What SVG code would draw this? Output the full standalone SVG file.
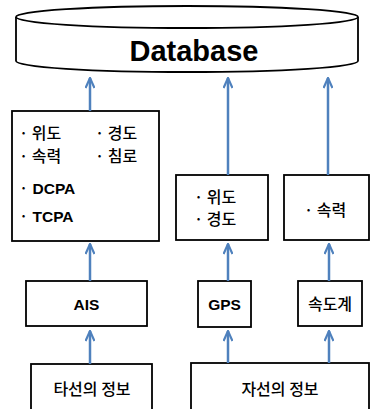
<svg xmlns="http://www.w3.org/2000/svg" width="371" height="409" viewBox="0 0 371 409">
<defs>
<marker id="ah" viewBox="0 0 12 10" refX="11" refY="5" markerWidth="12" markerHeight="10" markerUnits="userSpaceOnUse" orient="auto">
<path d="M1,0.5 L11,5 L1,9.5" fill="none" stroke="#4F81BD" stroke-width="2.2"/>
</marker>
<style>
.box{fill:#fff;stroke:#000;stroke-width:1.8}
.cn line{stroke:#4F81BD;stroke-width:2.5;marker-end:url(#ah)}
.k{font-family:"Noto Sans CJK KR","Liberation Sans",sans-serif;font-size:16px;fill:#000;font-weight:500}
.b{font-family:"Liberation Sans","Noto Sans CJK KR",sans-serif;font-size:15.5px;font-weight:bold;fill:#000}
</style>
</defs>
<rect width="371" height="409" fill="#fff"/>
<g id="database">
<path class="box" d="M16,17 L16,61 A171,11 0 0 0 358,61 L358,17"/>
<ellipse class="box" cx="187" cy="17" rx="171" ry="11"/>
<text x="194" y="61" text-anchor="middle" style="font-family:'Liberation Sans',sans-serif;font-size:29px;font-weight:bold">Database</text>
</g>
<g id="ais-data">
<rect class="box" x="12" y="111" width="147" height="130"/>
<text class="k" x="19" y="139">· 위도</text>
<text class="k" x="95" y="139">· 경도</text>
<text class="k" x="19" y="162">· 속력</text>
<text class="k" x="95" y="162">· 침로</text>
<text class="b" x="19" y="194"><tspan class="k">·</tspan> DCPA</text>
<text class="b" x="19" y="222"><tspan class="k">·</tspan> TCPA</text>
</g>
<g id="gps-data">
<rect class="box" x="176" y="175" width="92" height="65"/>
<text class="k" x="194" y="203">· 위도</text>
<text class="k" x="194" y="225">· 경도</text>
</g>
<g id="speed-data">
<rect class="box" x="284" y="175" width="85" height="65"/>
<text class="k" x="304" y="216">· 속력</text>
</g>
<g id="ais">
<rect class="box" x="26" y="281" width="121" height="45"/>
<text class="b" x="86.5" y="310" text-anchor="middle">AIS</text>
</g>
<g id="gps">
<rect class="box" x="198" y="281" width="53" height="46"/>
<text class="b" x="224.5" y="310" text-anchor="middle">GPS</text>
</g>
<g id="speedometer">
<rect class="box" x="298" y="281" width="64" height="45"/>
<text class="k" x="330" y="310" text-anchor="middle">속도계</text>
</g>
<g id="other-ship">
<rect class="box" x="31" y="364" width="121" height="50"/>
<text class="k" x="92" y="395" text-anchor="middle">타선의 정보</text>
</g>
<g id="own-ship">
<rect class="box" x="191" y="363" width="178" height="50"/>
<text class="k" x="280" y="395" text-anchor="middle">자선의 정보</text>
</g>
<g id="connectors" class="cn">
<line x1="90" y1="111" x2="90" y2="78"/>
<line x1="228" y1="175" x2="228" y2="78"/>
<line x1="328" y1="175" x2="328" y2="78"/>
<line x1="90" y1="281" x2="90" y2="244"/>
<line x1="228" y1="281" x2="228" y2="244"/>
<line x1="329" y1="281" x2="329" y2="244"/>
<line x1="90" y1="364" x2="90" y2="331"/>
<line x1="228" y1="363" x2="228" y2="331"/>
<line x1="329" y1="363" x2="329" y2="331"/>
</g>
</svg>
